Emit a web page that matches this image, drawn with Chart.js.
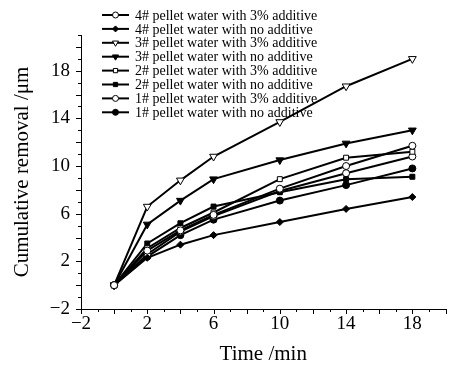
<!DOCTYPE html>
<html>
<head>
<meta charset="utf-8">
<script src="https://cdn.jsdelivr.net/npm/chart.js@4/dist/chart.umd.min.js"></script>
<style>
  html, body { margin: 0; padding: 0; background: #fff; }
</style>
</head>
<body>
<canvas id="myChart" width="451" height="367"></canvas>
<script>
// Cumulative removal vs time, 8 pellet-water series
const times = [0, 2, 4, 6, 10, 14, 18];
const seriesNames = [
  '4# pellet water with 3% additive',
  '4# pellet water with no additive',
  '3# pellet water with 3% additive',
  '3# pellet water with no additive',
  '2# pellet water with 3% additive',
  '2# pellet water with no additive',
  '1# pellet water with 3% additive',
  '1# pellet water with no additive'
];
const p4add = [0, 2.9, 4.6, 5.9, 8.1, 10.0, 11.7];
const p4none = [0, 2.3, 3.4, 4.2, 5.3, 6.4, 7.4];
const p3add = [0, 6.6, 8.8, 10.8, 13.7, 16.7, 19.0];
const p3none = [0, 5.1, 7.1, 8.9, 10.5, 11.9, 13.0];
const p2add = [0, 3.1, 4.8, 6.1, 8.9, 10.7, 11.2];
const p2none = [0, 3.5, 5.2, 6.6, 7.8, 8.9, 9.1];
const p1add = [0, 2.6, 4.5, 5.8, 7.9, 9.4, 10.8];
const p1none = [0, 2.4, 4.2, 5.5, 7.1, 8.4, 9.8];
const xTickLabels = [-2, 2, 6, 10, 14, 18];
const yTickLabels = [-2, 2, 6, 10, 14, 18];

const allValues = [p4add, p4none, p3add, p3none, p2add, p2none, p1add, p1none];
// marker per series: [pointStyle, rotation, open?]
const markers = [
  ['circle', 0, true],
  ['rectRot', 0, false],
  ['triangle', 180, true],
  ['triangle', 180, false],
  ['rect', 0, true],
  ['rect', 0, false],
  ['circle', 0, true],
  ['circle', 0, false]
];

const datasets = allValues.map((vals, i) => ({
  label: seriesNames[i],
  data: vals.map((v, k) => ({ x: times[k], y: v })),
  borderColor: '#000',
  borderWidth: 2,
  pointStyle: markers[i][0],
  pointRotation: markers[i][1],
  pointRadius: markers[i][0] === 'triangle' ? 4.5 : 3.5,
  pointBorderWidth: 1,
  pointBorderColor: '#000',
  pointBackgroundColor: markers[i][2] ? '#fff' : '#000',
  tension: 0
}));

const minus = v => (v < 0 ? '\u2212' + Math.abs(v) : String(v));

// minor/major tick marks drawn on the axes
const tickMarks = {
  id: 'tickMarks',
  afterDraw(chart) {
    const { ctx, scales: { x, y } } = chart;
    ctx.save();
    ctx.strokeStyle = '#000';
    ctx.lineWidth = 1;
    ctx.beginPath();
    x.ticks.forEach(t => {
      const px = Math.round(x.getPixelForValue(t.value)) + 0.5;
      const len = t.value % 2 === 0 ? 5 : 3;
      ctx.moveTo(px, x.top);
      ctx.lineTo(px, x.top + len);
    });
    y.ticks.forEach(t => {
      const py = Math.round(y.getPixelForValue(t.value)) + 0.5;
      const len = t.value % 2 === 0 ? 5 : 3;
      ctx.moveTo(y.right, py);
      ctx.lineTo(y.right - len, py);
    });
    ctx.stroke();
    ctx.restore();
  }
};

// legend with line + marker, drawn over the plot
const lineLegend = {
  id: 'lineLegend',
  afterDraw(chart) {
    const ctx = chart.ctx;
    ctx.save();
    ctx.font = '14px "Liberation Serif", serif';
    ctx.textBaseline = 'middle';
    chart.data.datasets.forEach((ds, i) => {
      const yy = 15 + i * 13.9;
      ctx.strokeStyle = '#000';
      ctx.lineWidth = 2;
      ctx.beginPath();
      ctx.moveTo(102, yy);
      ctx.lineTo(129, yy);
      ctx.stroke();
      ctx.lineWidth = 1;
      ctx.fillStyle = ds.pointBackgroundColor;
      Chart.helpers.drawPoint(ctx, {
        pointStyle: ds.pointStyle,
        rotation: ds.pointRotation,
        radius: ds.pointStyle === 'triangle' ? 3.5 : 3,
        borderWidth: 1
      }, 115.5, yy);
      ctx.fillStyle = '#000';
      ctx.fillText(ds.label, 135, yy + 1);
    });
    ctx.restore();
  }
};

new Chart('myChart', {
  type: 'line',
  data: { datasets: datasets },
  plugins: [tickMarks, lineLegend],
  options: {
    responsive: false,
    animation: false,
    layout: { padding: { top: 35, right: 0, left: 0, bottom: 0 } },
    plugins: {
      legend: { display: false },
      tooltip: { enabled: false }
    },
    scales: {
      x: {
        type: 'linear',
        min: -2,
        max: 20,
        afterFit: s => { s.height = 58; },
        grid: { display: false, drawTicks: false },
        border: { display: true, color: '#000', width: 1 },
        ticks: {
          stepSize: 1,
          autoSkip: false,
          maxRotation: 0,
          padding: 4,
          color: '#000',
          font: { family: '"Liberation Serif", serif', size: 19 },
          callback: v => (xTickLabels.includes(v) ? minus(v) : '')
        },
        title: {
          display: true,
          text: 'Time /min',
          color: '#000',
          padding: { top: 0, bottom: 0 },
          font: { family: '"Liberation Serif", serif', size: 21 }
        }
      },
      y: {
        min: -2,
        max: 21,
        afterFit: s => { s.width = 81; },
        grid: { display: false, drawTicks: false },
        border: { display: true, color: '#000', width: 1 },
        ticks: {
          stepSize: 1,
          autoSkip: false,
          padding: 11,
          color: '#000',
          font: { family: '"Liberation Serif", serif', size: 19 },
          callback: v => (yTickLabels.includes(v) ? minus(v) : '')
        },
        title: {
          display: true,
          text: 'Cumulative removal /\u03bcm',
          color: '#000',
          padding: { top: 10, bottom: 0 },
          font: { family: '"Liberation Serif", serif', size: 21 }
        }
      }
    }
  }
});
</script>
</body>
</html>
